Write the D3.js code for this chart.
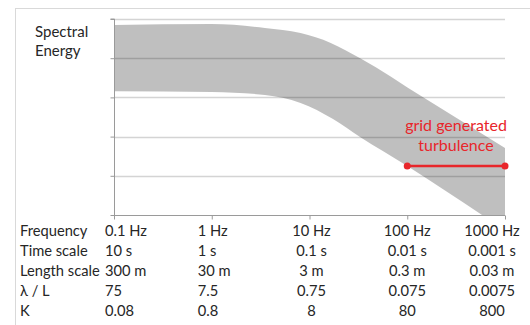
<!DOCTYPE html>
<html><head><meta charset="utf-8">
<script src="https://cdn.jsdelivr.net/npm/d3@7"></script>
<style>
html,body{margin:0;padding:0;background:#fff;}
text{font-family:Lato,"Open Sans",sans-serif;}
</style></head>
<body><svg id="c" width="530" height="325"></svg>
<script>
// ---- data ----
const upperFreq = [0.1, 1, 3.5, 8.1, 16.5, 33, 144, 1000];
const upperLevel = [4.85, 4.87, 4.77, 4.64, 4.39, 4.0, 3.01, 1.71];
const lowerFreq = [0.1, 1, 3.5, 8.1, 17.4, 32.9, 100, 582, 1000];
const lowerLevel = [3.16, 3.14, 3.06, 2.86, 2.45, 1.99, 1.25, 0, 0];
const gridFreq = [100, 1000];
const gridLevel = [1.25, 1.25];
const tickFreq = [0.1, 1, 10, 100, 1000];
const yTicks = [0, 1, 2, 3, 4, 5];
const rowLabels = ["Frequency", "Time scale", "Length scale", "λ / L", "K"];
const freqLabels = ["0.1 Hz", "1 Hz", "10 Hz", "100 Hz", "1000 Hz"];
const timeLabels = ["10 s", "1 s", "0.1 s", "0.01 s", "0.001 s"];
const lengthLabels = ["300 m", "30 m", "3 m", "0.3 m", "0.03 m"];
const lambdaLabels = ["75", "7.5", "0.75", "0.075", "0.0075"];
const kLabels = ["0.08", "0.8", "8", "80", "800"];
const yTitle = ["Spectral", "Energy"];
const annotation = ["grid generated", "turbulence"];

// ---- layout ----
const svg = d3.select("#c");
const L = 114, R = 505, T = 19, B = 215;
const x = d3.scaleLog().domain([0.1, 1000]).range([L, R]);
const y = d3.scaleLinear().domain([0, 5]).range([B, T]);
const red = "#e8262b";

// outer frame
svg.append("rect").attr("x", 15.5).attr("y", 8.5).attr("width", 530).attr("height", 330)
  .attr("fill", "none").attr("stroke", "#d9d9d9");

// gridlines
svg.append("g").selectAll("line").data(yTicks.filter(d => d > 0)).join("line")
  .attr("x1", L).attr("x2", R).attr("y1", d => Math.round(y(d)) + 0.5).attr("y2", d => Math.round(y(d)) + 0.5)
  .attr("stroke", "#d4d4d4").attr("stroke-width", 1.5);

// band
const curve = d3.line().x(d => x(d[0])).y(d => y(d[1])).curve(d3.curveMonotoneX);
const straight = d3.line().x(d => x(d[0])).y(d => y(d[1]));
const upperPath = curve(upperFreq.map((f, i) => [f, upperLevel[i]]));
const lowerAll = lowerFreq.map((f, i) => [f, lowerLevel[i]]);
const firstZero = lowerAll.findIndex(d => d[1] === 0);
const lowerCurved = curve(lowerAll.slice(0, firstZero + 1).reverse());
const lowerFlat = straight(lowerAll.slice(firstZero).reverse());
svg.append("path")
  .attr("d", upperPath + "L" + lowerFlat.slice(1) + "L" + lowerCurved.slice(1) + "Z")
  .attr("fill", "#000").attr("fill-opacity", 0.25);

// axes
const yAxis = d3.axisLeft(y).tickValues(yTicks).tickSize(4).tickFormat("");
const gy = svg.append("g").attr("transform", `translate(${L + 0.5},0)`).call(yAxis);
gy.select(".domain").attr("stroke", "#9a9a9a").attr("d", `M-4,${T}H0V${B}`);
gy.selectAll(".tick line").attr("stroke", "#9a9a9a");
const xAxis = d3.axisBottom(x).tickValues(tickFreq).tickSize(4).tickFormat("");
const gx = svg.append("g").attr("transform", `translate(0,${B + 0.5})`).call(xAxis);
gx.select(".domain").attr("stroke", "#9a9a9a").attr("d", `M${L},0H${R}`);
gx.selectAll(".tick line").attr("stroke", "#9a9a9a");

// red range line
svg.append("line").attr("x1", x(gridFreq[0])).attr("x2", x(gridFreq[1]))
  .attr("y1", y(gridLevel[0])).attr("y2", y(gridLevel[1]))
  .attr("stroke", red).attr("stroke-width", 2.5);
svg.append("g").selectAll("circle").data(gridFreq).join("circle")
  .attr("cx", d => x(d)).attr("cy", (d, i) => y(gridLevel[i])).attr("r", 3.5).attr("fill", red);
svg.append("g").selectAll("text").data(annotation).join("text")
  .attr("x", 456).attr("y", (d, i) => 131 + i * 20).attr("text-anchor", "middle")
  .attr("fill", red).style("font-size", "16px").text(d => d);

// y title
svg.append("g").selectAll("text").data(yTitle).join("text")
  .attr("x", 35).attr("y", (d, i) => 37 + i * 19).attr("fill", "#262626")
  .style("font-size", "15px").text(d => d);

// table below
const rows = [freqLabels, timeLabels, lengthLabels, lambdaLabels, kLabels];
const colStyle = [
  {anchor: "start", dx: -9},
  {anchor: "start", dx: -14},
  {anchor: "middle", dx: 2},
  {anchor: "middle", dx: 0},
  {anchor: "middle", dx: -13}
];
const tbl = svg.append("g").style("font-size", "14.7px").attr("fill", "#262626");
rowLabels.forEach((lab, r) => {
  const yy = 236 + r * 20;
  tbl.append("text").attr("x", 20).attr("y", yy).text(lab);
  rows[r].forEach((t, c) => {
    tbl.append("text").attr("x", x(tickFreq[c]) + colStyle[c].dx).attr("y", yy)
      .attr("text-anchor", colStyle[c].anchor).text(t);
  });
});
</script></body></html>
